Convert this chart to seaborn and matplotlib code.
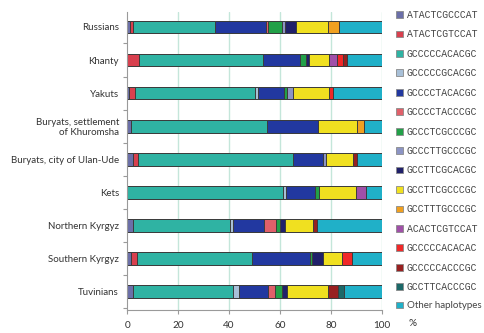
import matplotlib
matplotlib.use("Agg")
import matplotlib.pyplot as plt
from matplotlib.patches import Patch
from matplotlib.ticker import FixedLocator
import seaborn as sns
import pandas as pd

# Populations, top to bottom
populations = [
    "Russians",
    "Khanty",
    "Yakuts",
    "Buryats, settlement\nof Khuromsha",
    "Buryats, city of Ulan-Ude",
    "Kets",
    "Northern Kyrgyz",
    "Southern Kyrgyz",
    "Tuvinians",
]

# Haplotypes in stacking (and legend) order
haplotypes = [
    "ATACTCGCCCAT", "ATACTCGTCCAT", "GCCCCCACACGC", "GCCCCCGCACGC",
    "GCCCCTACACGC", "GCCCCTACCCGC", "GCCCTCGCCCGC", "GCCCTTGCCCGC",
    "GCCTTCGCACGC", "GCCTTCGCCCGC", "GCCTTTGCCCGC", "ACACTCGTCCAT",
    "GCCCCCACACAC", "GCCCCCACCCGC", "GCCTTCACCCGC", "Other haplotypes",
]

colors = [
    "#6b6fa8", "#d8404e", "#2fb3a3", "#a8c0d8",
    "#2238a0", "#e0606a", "#22a048", "#8c94c4",
    "#20206a", "#f0e020", "#f0a020", "#a050a8",
    "#f02828", "#982020", "#1c6868", "#20b0c8",
]

# Haplotype frequencies (%) per population, same order as `haplotypes`
russians    = [1.0, 1.3, 32.1, 0.0, 20.3, 0.7, 5.5, 1.0, 4.6, 12.5, 4.3, 0.0, 0.0, 0.0, 0.0, 16.7]
khanty      = [0.0, 4.7, 48.8, 0.0, 14.4, 0.0, 2.3, 0.0, 1.3, 7.9, 0.0, 2.9, 2.4, 1.5, 0.0, 13.8]
yakuts      = [0.8, 2.2, 47.2, 1.0, 10.4, 0.0, 1.3, 2.4, 0.0, 14.1, 0.0, 0.0, 1.3, 0.0, 0.0, 19.3]
khuromsha   = [1.3, 0.0, 53.5, 0.0, 20.3, 0.0, 0.0, 0.0, 0.0, 15.1, 2.8, 0.0, 0.0, 0.0, 0.0, 7.0]
ulan_ude    = [2.4, 2.0, 60.6, 0.0, 12.0, 0.0, 0.0, 1.1, 0.0, 10.7, 0.0, 0.0, 0.0, 1.4, 0.0, 9.8]
kets        = [0.0, 0.0, 61.3, 0.9, 11.5, 0.0, 1.7, 0.0, 0.0, 14.4, 0.0, 4.2, 0.0, 0.0, 0.0, 6.0]
n_kyrgyz    = [2.1, 0.0, 38.3, 1.3, 12.0, 4.8, 1.5, 0.0, 2.0, 11.1, 0.0, 0.0, 0.0, 1.6, 0.0, 25.3]
s_kyrgyz    = [1.4, 2.5, 45.3, 0.0, 22.6, 0.0, 0.9, 0.0, 4.1, 7.5, 0.0, 0.0, 3.9, 0.0, 0.0, 11.8]
tuvinians   = [2.1, 0.0, 39.6, 2.4, 11.4, 2.6, 2.6, 0.0, 2.0, 16.3, 0.0, 0.0, 0.0, 4.0, 2.2, 14.8]

rows = [russians, khanty, yakuts, khuromsha, ulan_ude, kets, n_kyrgyz, s_kyrgyz, tuvinians]
freq = pd.DataFrame(rows, index=populations, columns=haplotypes)
cum = freq.cumsum(axis=1)

sns.set_style("white")
plt.rcParams["font.family"] = ["Lato", "DejaVu Sans"]

fig = plt.figure(figsize=(4.84, 3.33), dpi=100)
ax = fig.add_axes([127.3 / 484, 1 - 310 / 333, 254.4 / 484, 298 / 333])

# Vertical grid behind the bars
for gx in [20, 40, 60, 80, 100]:
    ax.axvline(gx, color="#c4e6da", lw=1.0, zorder=0)

# Stacked bars: draw cumulative totals from the widest down
for hap, col in zip(reversed(haplotypes), reversed(colors)):
    df = pd.DataFrame({"population": populations, "value": cum[hap].values})
    sns.barplot(
        data=df, x="value", y="population", order=populations, orient="h",
        color=col, saturation=1, width=0.38, errorbar=None,
        edgecolor="#3c3c3c", linewidth=0.7, ax=ax, zorder=2,
    )

ax.set_xlim(0, 100)
ax.set_ylim(8.55, -0.45)
ax.set_xlabel("")
ax.set_ylabel("")

ax.set_xticks([0, 20, 40, 60, 80, 100])
ax.tick_params(axis="x", length=3, width=0.8, color="#9a9a9a", pad=5,
               labelsize=7.2, labelcolor="#333333", bottom=True)
ax.tick_params(axis="y", which="major", length=0, pad=6,
               labelsize=7, labelcolor="#333333")
ax.yaxis.set_minor_locator(FixedLocator([i + 0.5 for i in range(-1, 9)]))
ax.tick_params(axis="y", which="minor", length=3, width=0.8, color="#9a9a9a", left=True)
for lbl in ax.get_yticklabels():
    lbl.set_linespacing(1.05)

for side in ["top", "right"]:
    ax.spines[side].set_visible(False)
for side in ["left", "bottom"]:
    ax.spines[side].set_color("#9a9a9a")
    ax.spines[side].set_linewidth(0.8)

fig.text(413 / 484, 1 - 323 / 333, "%", ha="center", va="center",
         fontsize=7.2, color="#333333")

handles = [Patch(facecolor=c, edgecolor="#8a8a8a", linewidth=0.6) for c in colors]
leg = fig.legend(
    handles, haplotypes, loc="upper left",
    bbox_to_anchor=(396 / 484, 1 - 10 / 333), frameon=False,
    fontsize=7, handlelength=0.7, handleheight=0.7, handletextpad=0.4,
    labelspacing=0.97, borderpad=0, borderaxespad=0,
)
for t in leg.get_texts():
    t.set_color("#444444")
    if t.get_text() != "Other haplotypes":
        t.set_fontfamily(["Liberation Mono", "DejaVu Sans Mono"])

fig.savefig("out.png", dpi=100)
